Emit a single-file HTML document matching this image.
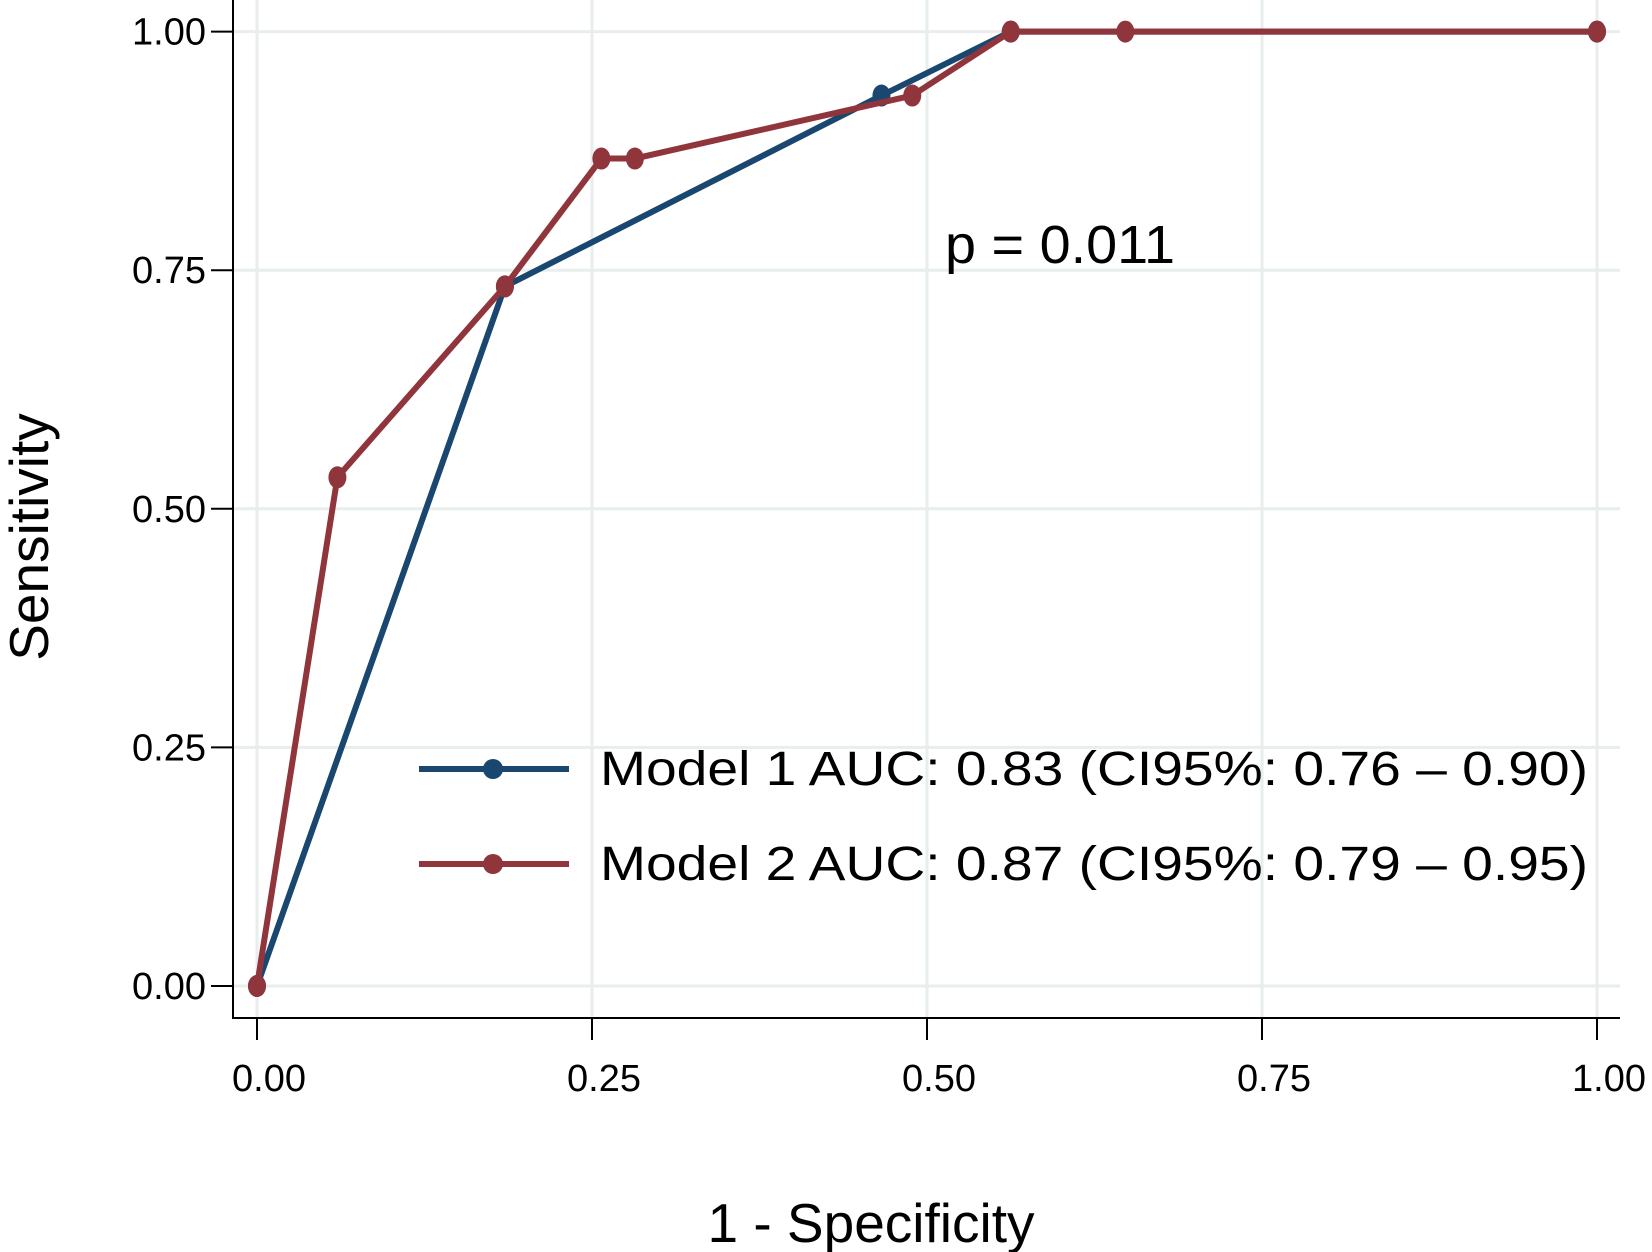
<!DOCTYPE html>
<html><head><meta charset="utf-8"><style>
html,body{margin:0;padding:0;background:#fff;}
svg{display:block;font-family:"Liberation Sans",Arial,sans-serif;}
</style></head><body>
<svg id="chart" width="1652" height="1252" viewBox="0 0 1652 1252">
<g id="grid"></g>
<g id="axes"></g>
<g id="series"></g>
<text x="945" y="263" font-size="54" textLength="230" lengthAdjust="spacingAndGlyphs" fill="#000">p = 0.011</text>
<text x="871" y="1242" font-size="55" text-anchor="middle" fill="#000">1 - Specificity</text>
<text transform="translate(48,537) rotate(-90)" font-size="55" text-anchor="middle" fill="#000">Sensitivity</text>
<g>
<g>
<line x1="419" y1="769" x2="569" y2="769" stroke="#1a476f" stroke-width="6"/>
<circle cx="493" cy="769" r="10" fill="#1a476f"/>
<text x="600" y="785" font-size="48" textLength="988" lengthAdjust="spacingAndGlyphs">Model 1 AUC: 0.83 (CI95%: 0.76 – 0.90)</text>
</g>
<g>
<line x1="419" y1="864" x2="569" y2="864" stroke="#90353b" stroke-width="6"/>
<circle cx="493" cy="864" r="10" fill="#90353b"/>
<text x="600" y="880" font-size="48" textLength="988" lengthAdjust="spacingAndGlyphs">Model 2 AUC: 0.87 (CI95%: 0.79 – 0.95)</text>
</g>
</g>
</svg>
<script>
const ticks=[0,0.25,0.5,0.75,1];
const tickLabels=["0.00","0.25","0.50","0.75","1.00"];
const m1x=[0,0.185,0.466,0.5625,1];
const m1y=[0,0.733,0.933,1,1];
const m2x=[0,0.06,0.185,0.257,0.282,0.489,0.5625,0.648,1];
const m2y=[0,0.533,0.733,0.867,0.867,0.933,1,1,1];
const NS="http://www.w3.org/2000/svg";
const X=v=>257+v*(1597-257);
const Y=v=>986-v*(986-31.6);
function mk(tag,attrs,parent){const e=document.createElementNS(NS,tag);for(const k in attrs)e.setAttribute(k,attrs[k]);parent.appendChild(e);return e;}
const grid=document.getElementById('grid'),axes=document.getElementById('axes'),series=document.getElementById('series');
ticks.forEach((t,i)=>{
  let g=mk('line',{x1:X(t),x2:X(t),y1:0,y2:1018,stroke:'#e8eeeb','stroke-width':3},grid);
  
  
  g=mk('line',{x1:233,x2:1620,y1:Y(t),y2:Y(t),stroke:'#e8eeeb','stroke-width':3},grid);
  
  
  let l=mk('line',{x1:X(t),x2:X(t),y1:1018,y2:1040,stroke:'#000','stroke-width':2},axes);
  
  
  let tx=mk('text',{x:X(t)+12,y:1091,'font-size':38,'text-anchor':'middle'},axes);
  tx.textContent=tickLabels[i];
  
  
  l=mk('line',{x1:211,x2:233,y1:Y(t),y2:Y(t),stroke:'#000','stroke-width':2},axes);
  
  
  tx=mk('text',{x:206,y:Y(t)+13,'font-size':38,'text-anchor':'end'},axes);
  tx.textContent=tickLabels[i];
  
  
});
let a=mk('line',{x1:233,x2:233,y1:0,y2:1019,stroke:'#000','stroke-width':2},axes);


a=mk('line',{x1:232,x2:1620,y1:1018,y2:1018,stroke:'#000','stroke-width':2},axes);


function draw(xs,ys,color,name){
  const pts=xs.map((x,i)=>X(x)+','+Y(ys[i])).join(' ');
  const p=mk('polyline',{points:pts,fill:'none',stroke:color,'stroke-width':6,'stroke-linejoin':'round'},series);
  
  
  xs.forEach((x,i)=>{
    const c=mk('ellipse',{cx:X(x),cy:Y(ys[i]),rx:9,ry:11,fill:color},series);
    
    
  });
}
draw(m1x,m1y,'#1a476f','model-1');
draw(m2x,m2y,'#90353b','model-2');
</script>
</body></html>
